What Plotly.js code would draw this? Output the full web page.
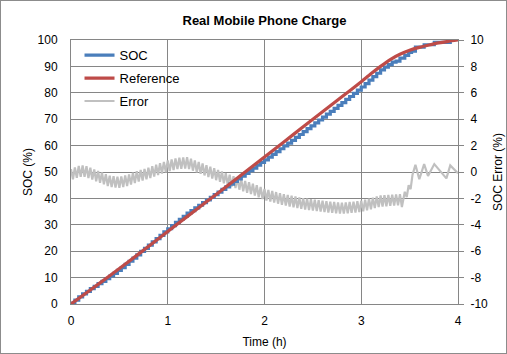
<!DOCTYPE html>
<html>
<head>
<meta charset="utf-8">
<script src="https://cdn.plot.ly/plotly-3.0.1.min.js"></script>
<style>
html,body{margin:0;padding:0;background:#fff;}
#frame{width:505px;height:352px;border:1px solid #8c8c8c;}
#chart{width:505px;height:352px;}
</style>
</head>
<body>
<div id="frame"><div id="chart"></div></div>
<script>
// Reference curve (smooth)
const refTime = [0,0.2,0.4,0.6,0.8,1.0,1.2,1.4,1.6,1.8,2.0,2.2,2.4,2.6,2.8,3.0,3.1,3.2,3.3,3.4,3.5,3.6,3.7,3.8,3.9,4.0];
const refSOC  = [0,5.3,10.7,16.2,21.8,27.5,33.1,38.7,44.3,50.0,55.7,61.4,67.1,72.8,78.5,84.2,87.2,90.0,92.6,94.6,96.1,97.2,98.1,98.9,99.5,100];

// Measured SOC (staircase)
const socTime = [0,0.04,0.08,0.12,0.16,0.20,0.24,0.28,0.32,0.36,0.40,0.44,0.48,0.52,0.56,0.60,0.64,0.68,0.72,0.76,0.80,0.84,0.88,0.92,0.96,1.00,1.04,1.08,1.12,1.16,1.20,1.24,1.28,1.32,1.36,1.40,1.44,1.48,1.52,1.56,1.60,1.64,1.68,1.72,1.76,1.80,1.84,1.88,1.92,1.96,2.00,2.04,2.08,2.12,2.16,2.20,2.24,2.28,2.32,2.36,2.40,2.44,2.48,2.52,2.56,2.60,2.64,2.68,2.72,2.76,2.80,2.84,2.88,2.92,2.96,3.00,3.04,3.08,3.12,3.16,3.20,3.24,3.28,3.32,3.36,3.40,3.45,3.49,3.52,3.56,3.65,3.755,3.92,3.93];
const socVal  = [0.3,1.5,2.7,3.8,4.8,5.8,6.7,7.7,8.6,9.6,10.6,11.6,12.7,13.8,15.0,16.2,17.4,18.6,19.9,21.1,22.3,23.5,24.8,26.0,27.3,28.5,29.7,30.9,32.1,33.2,34.4,35.4,36.4,37.4,38.4,39.4,40.4,41.4,42.4,43.4,44.4,45.4,46.4,47.4,48.4,49.5,50.5,51.5,52.6,53.6,54.6,55.6,56.7,57.7,58.8,59.9,60.9,62.0,63.1,64.2,65.3,66.4,67.5,68.6,69.7,70.8,71.9,73.0,74.1,75.2,76.3,77.5,78.6,79.8,81.0,82.2,83.5,84.8,86.1,87.4,88.7,89.7,90.7,91.6,92.0,93.1,94.2,95.3,95.8,97.3,98.2,99.1,100,100];

// SOC error (%)
const errTime = [0,0.02,0.04,0.06,0.08,0.10,0.12,0.14,0.16,0.18,0.20,0.22,0.24,0.26,0.28,0.30,0.32,0.34,0.36,0.38,0.40,0.42,0.44,0.46,0.48,0.50,0.52,0.54,0.56,0.58,0.60,0.62,0.64,0.66,0.68,0.70,0.72,0.74,0.76,0.78,0.80,0.82,0.84,0.86,0.88,0.90,0.92,0.94,0.96,0.98,1.00,1.02,1.04,1.06,1.08,1.10,1.12,1.14,1.16,1.18,1.20,1.22,1.24,1.26,1.28,1.30,1.32,1.34,1.36,1.38,1.40,1.42,1.44,1.46,1.48,1.50,1.52,1.54,1.56,1.58,1.60,1.62,1.64,1.66,1.68,1.70,1.72,1.74,1.76,1.78,1.80,1.82,1.84,1.86,1.88,1.90,1.92,1.94,1.96,1.98,2.00,2.02,2.04,2.06,2.08,2.10,2.12,2.14,2.16,2.18,2.20,2.22,2.24,2.26,2.28,2.30,2.32,2.34,2.36,2.38,2.40,2.42,2.44,2.46,2.48,2.50,2.52,2.54,2.56,2.58,2.60,2.62,2.64,2.66,2.68,2.70,2.72,2.74,2.76,2.78,2.80,2.82,2.84,2.86,2.88,2.90,2.92,2.94,2.96,2.98,3.00,3.02,3.04,3.06,3.08,3.10,3.12,3.14,3.16,3.18,3.20,3.22,3.24,3.26,3.28,3.30,3.32,3.34,3.36,3.38,3.40,3.42,3.45,3.47,3.49,3.51,3.53,3.56,3.60,3.65,3.69,3.755,3.88,3.92,4.00];
const errVal  = [0.22,-0.56,0.34,-0.44,0.46,-0.36,0.50,-0.37,0.44,-0.46,0.32,-0.58,0.20,-0.70,0.08,-0.82,-0.04,-0.94,-0.16,-1.06,-0.28,-1.14,-0.32,-1.18,-0.36,-1.19,-0.34,-1.14,-0.26,-1.06,-0.18,-0.96,-0.06,-0.84,0.06,-0.73,0.16,-0.64,0.24,-0.56,0.32,-0.46,0.44,-0.34,0.56,-0.23,0.67,-0.12,0.77,-0.02,0.87,0.07,0.95,0.15,1.03,0.22,1.08,0.25,1.10,0.27,1.12,0.22,1.00,0.10,0.88,-0.02,0.76,-0.14,0.64,-0.26,0.52,-0.38,0.40,-0.50,0.28,-0.62,0.16,-0.74,0.04,-0.86,-0.08,-0.98,-0.20,-1.10,-0.32,-1.22,-0.44,-1.34,-0.56,-1.46,-0.68,-1.57,-0.78,-1.67,-0.88,-1.78,-1.00,-1.91,-1.14,-2.05,-1.28,-2.16,-1.36,-2.24,-1.44,-2.32,-1.52,-2.40,-1.60,-2.48,-1.68,-2.55,-1.74,-2.61,-1.80,-2.67,-1.86,-2.73,-1.92,-2.79,-1.98,-2.84,-2.02,-2.88,-2.06,-2.92,-2.10,-2.96,-2.14,-3.00,-2.18,-3.04,-2.21,-3.07,-2.24,-3.10,-2.27,-3.13,-2.30,-3.15,-2.33,-3.15,-2.30,-3.13,-2.27,-3.10,-2.24,-3.07,-2.21,-3.04,-2.18,-2.98,-2.10,-2.90,-2.02,-2.82,-1.94,-2.74,-1.86,-2.66,-1.78,-2.61,-1.76,-2.59,-1.74,-2.57,-1.72,-2.55,-1.70,-2.53,-1.68,-2.65,-1.5,-1.9,-1.0,-1.3,-0.2,0.55,-0.55,0.6,-0.3,0.6,-0.48,0.5,-0.1];

const xTicks = [0,1,2,3,4];
const socTicks = [0,10,20,30,40,50,60,70,80,90,100];
const errTicks = [-10,-8,-6,-4,-2,0,2,4,6,8,10];

const FONT = 'Liberation Sans, Arial, sans-serif';
const GRID = '#868686';

const traces = [
  {x: socTime, y: socVal, name: 'SOC', type: 'scatter', mode: 'lines', legendgroup: 'a',
   line: {color: '#4a7ebb', width: 3.2, shape: 'hv'}, yaxis: 'y2'},
  {x: refTime, y: refSOC, name: 'Reference', type: 'scatter', mode: 'lines', legendgroup: 'b',
   line: {color: '#be4b48', width: 3.2, shape: 'spline', smoothing: 0.6}, yaxis: 'y2'},
  {x: errTime, y: errVal, name: 'Error', type: 'scatter', mode: 'lines', legendgroup: 'c',
   line: {color: '#c0c0c0', width: 2.2}, yaxis: 'y'}
];

const layout = {
  width: 505, height: 352,
  margin: {l: 70, r: 48, t: 39, b: 49, pad: 0},
  paper_bgcolor: '#ffffff', plot_bgcolor: '#ffffff',
  font: {family: FONT, size: 12, color: '#000'},
  title: {text: '<b>Real Mobile Phone Charge</b>', font: {family: FONT, size: 13, color: '#000'},
          x: 0.5, xref: 'paper', xanchor: 'center', y: 0.945, yref: 'container', yanchor: 'middle'},
  showlegend: true,
  legend: {x: 0.022, y: 0.999, xanchor: 'left', yanchor: 'top', bgcolor: 'rgba(0,0,0,0)',
           font: {family: FONT, size: 13, color: '#000'}, traceorder: 'grouped', tracegroupgap: 3, itemwidth: 30},
  xaxis: {range: [0, 4], tickvals: xTicks, ticktext: xTicks.map(String), showgrid: true, gridcolor: GRID, gridwidth: 1,
          zeroline: false, showline: true, linecolor: GRID, linewidth: 1, mirror: true, ticks: '',
          ticklabelstandoff: 6, tickfont: {size: 12},
          title: {text: 'Time (h)', font: {size: 12}, standoff: 10}},
  yaxis: {range: [-10, 10], side: 'right', tickvals: errTicks, ticktext: errTicks.map(String),
          showgrid: false, zeroline: false, showline: true, linecolor: GRID, linewidth: 1,
          ticks: 'outside', ticklen: 5, tickcolor: GRID, ticklabelstandoff: 4, tickfont: {size: 12},
          title: {text: 'SOC Error (%)', font: {size: 12}, standoff: 6}},
  yaxis2: {range: [0, 100], side: 'left', overlaying: 'y', tickvals: socTicks, ticktext: socTicks.map(String),
           showgrid: true, gridcolor: GRID, gridwidth: 1, zeroline: false, showline: true, linecolor: GRID, linewidth: 1,
           ticks: '', ticklabelstandoff: 10, tickfont: {size: 12},
           title: {text: 'SOC (%)', font: {size: 12}, standoff: 2}}
};

Plotly.newPlot('chart', traces, layout, {displayModeBar: false, staticPlot: true});
</script>
</body>
</html>
